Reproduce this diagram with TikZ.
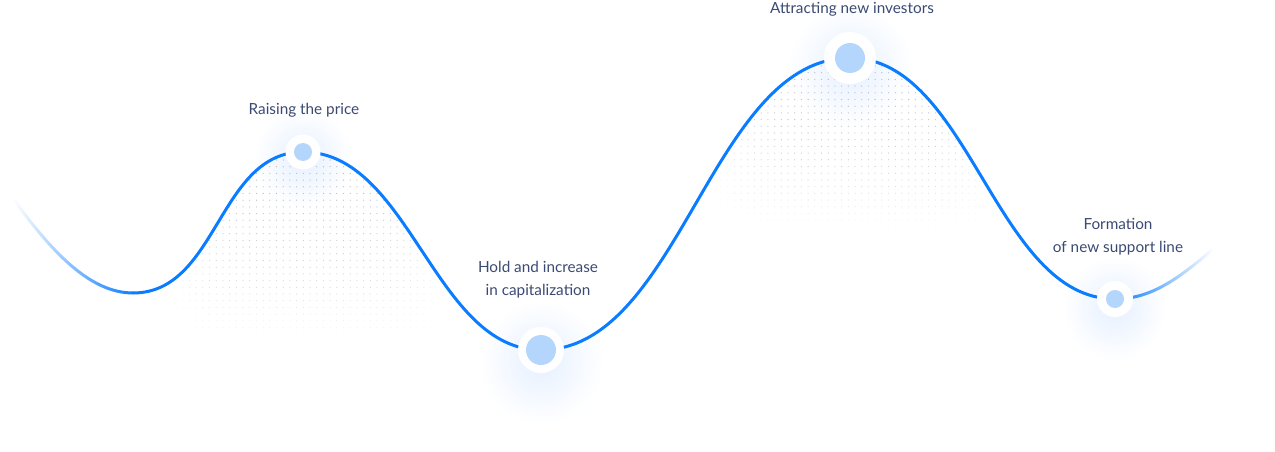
\documentclass[tikz,border=0pt]{standalone}
\usepackage{fontspec}
\setmainfont{Lato}
\usetikzlibrary{fadings}
\definecolor{linec}{HTML}{0A7CFF}
\definecolor{innerc}{HTML}{B4D5FC}
\definecolor{textc}{HTML}{3B4A72}
\definecolor{glowc}{HTML}{E6F0FF}
\definecolor{dotc}{HTML}{98A2B4}
\tikzfading[name=fadein, left color=transparent!100, right color=transparent!0]
\tikzfading[name=fadeout, left color=transparent!0, right color=transparent!100]
\tikzset{
  curve/.style={draw=linec, line width=3pt, line cap=round},
  ring/.style={circle, fill=white, inner sep=0pt, minimum size=#1},
  dotin/.style={circle, fill=innerc, inner sep=0pt, minimum size=#1},
  lbl/.style={text=textc, font=\fontsize{15.3}{23}\selectfont, align=center},
}
\begin{document}
\begin{tikzpicture}[x=1pt,y=-1pt]
\useasboundingbox (0,0) rectangle (1275,452);
\coordinate (s) at (14,200);
\coordinate (m1) at (133,293);
\coordinate (p1) at (303,152);
\coordinate (m2) at (541,350);
\coordinate (p2) at (850,58);
\coordinate (m3) at (1115,299);
\coordinate (e) at (1212,250);
% glows
\shade[inner color=glowc, outer color=white] (303,158) circle (50);
\shade[inner color=glowc, outer color=white] (541,362) circle (62);
\shade[inner color=glowc, outer color=white] (850,66) circle (62);
\shade[inner color=glowc, outer color=white] (1115,308) circle (52);
% dots under first peak
\begin{scope}
\clip (m1) .. controls +(85,0) and +(-85,0) .. (p1) .. controls +(107,0) and +(-107,0) .. (m2) -- (541,452) -- (133,452) -- (60,452) -- (60,293) -- cycle;
\foreach \i in {0,...,39}{
  \foreach \j in {0,...,26}{
    \pgfmathsetmacro\op{0.7*(1-(\j/27)^2.2)*(1-(abs(\i-19.5)/20.5)^5)}
    \fill[dotc, opacity=\op] (176+\i*6.7,160+\j*6.7) circle (0.65);
  }
}
\end{scope}
% dots under second peak
\begin{scope}
\clip (m2) .. controls +(139,0) and +(-139,0) .. (p2) .. controls +(120,0) and +(-120,0) .. (m3) -- (1115,452) -- (541,452) -- cycle;
\foreach \i in {0,...,40}{
  \foreach \j in {0,...,24}{
    \pgfmathsetmacro\op{0.7*(1-(\j/25)^2.2)*(1-(abs(\i-20)/21)^5)}
    \fill[dotc, opacity=\op] (721+\i*6.7,66+\j*6.7) circle (0.65);
  }
}
\end{scope}
% curve
\draw[curve, path fading=fadein] (s) .. controls +(38,52) and +(-43,0) .. (m1);
\draw[curve] (m1) .. controls +(85,0) and +(-85,0) .. (p1)
  .. controls +(107,0) and +(-107,0) .. (m2)
  .. controls +(139,0) and +(-139,0) .. (p2)
  .. controls +(120,0) and +(-120,0) .. (m3);
\draw[curve, path fading=fadeout] (m3) .. controls +(35,0) and +(-35,30) .. (e);
% nodes
\node[ring=35] (r1) at (p1) {};
\node[dotin=18] (d1) at (p1) {};
\node[ring=46] (r2) at (m2) {};
\node[dotin=30] (d2) at (m2) {};
\node[ring=52] (r3) at (p2) {};
\node[dotin=30] (d3) at (p2) {};
\node[ring=36] (r4) at (m3) {};
\node[dotin=18] (d4) at (m3) {};
% labels
\node[lbl] (t1) at (304,110) {Raising the price};
\node[lbl] (t2) at (538,280) {Hold and increase\\in capitalization};
\node[lbl] (t3) at (852,9) {Attracting new investors};
\node[lbl] (t4) at (1118,237) {Formation\\of new support line};
\end{tikzpicture}
\end{document}
